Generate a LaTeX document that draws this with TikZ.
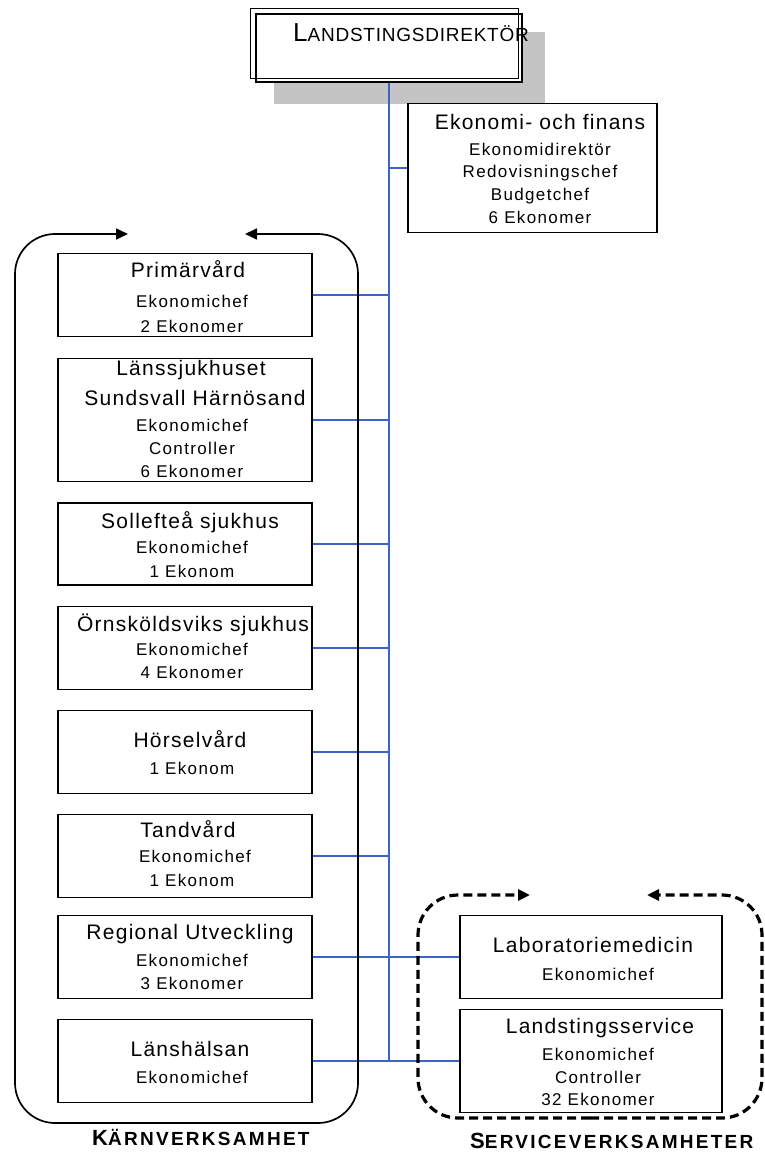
\documentclass[tikz,border=0pt]{standalone}
\usepackage{fontspec}
\setmainfont{Liberation Sans}
\newfontfamily\titlef[LetterSpace=6]{Liberation Sans}
\newfontfamily\subf[LetterSpace=8]{Liberation Sans}
\newfontfamily\capf[LetterSpace=4]{Liberation Sans}
\newfontfamily\labf[LetterSpace=12]{Liberation Sans}
\usetikzlibrary{arrows.meta}
\definecolor{conn}{RGB}{60,100,200}
\definecolor{shadowgray}{RGB}{196,196,196}
\tikzset{
  ubox/.style={draw, line width=1.3pt, fill=white, inner sep=0pt},
  tt/.style={anchor=base, inner sep=0pt, font=\titlef\fontsize{21}{21}\selectfont},
  st/.style={anchor=base, inner sep=0pt, font=\subf\fontsize{17}{17}\selectfont},
  lab/.style={anchor=base west, inner sep=0pt, font=\labf\bfseries\fontsize{19}{19}\selectfont},
  link/.style={draw=conn, line width=1.3pt},
  frame/.style={line width=1.7pt, rounded corners=40, -{Triangle[length=12,width=11]}},
  dframe/.style={line width=3.2pt, dash pattern=on 9pt off 5pt, rounded corners=40, -{Triangle[length=12,width=11]}}
}
\begin{document}
\begin{tikzpicture}[x=1pt,y=-1pt]
\useasboundingbox (0,0) rectangle (765,1153);

% top box
\fill[shadowgray] (274,32) rectangle (545,104);
\node[ubox, line width=2.4pt, minimum width=266, minimum height=68] (dir) at (389,48) {};
\draw[line width=0.9pt] ([shift={(-4,-4)}]dir.north west) rectangle ([shift={(-5,-5)}]dir.south east);
\node[anchor=base west, inner sep=0pt, font=\capf\fontsize{19}{19}\selectfont] (dirt) at (293,42) {{\fontsize{26}{26}\selectfont L}ANDSTINGSDIREKTÖR};

% Ekonomi box
\node[ubox, minimum width=249, minimum height=129] (eko) at (532.5,168) {};
\node[tt] (eko1) at (540,130) {Ekonomi- och finans};
\node[st] (eko2) at (540,155) {Ekonomidirektör};
\node[st] (eko3) at (540,177) {Redovisningschef};
\node[st] (eko4) at (540,200) {Budgetchef};
\node[st] (eko5) at (540,223) {6 Ekonomer};

% left boxes
\node[ubox, minimum width=254, minimum height=83] (prim) at (185,295) {};
\node[tt] (prim1) at (188,277) {Primärvård};
\node[st] (prim2) at (192,307) {Ekonomichef};
\node[st] (prim3) at (192,332) {2 Ekonomer};

\node[ubox, minimum width=254, minimum height=123] (lss) at (185,420) {};
\node[tt] (lss1) at (191,375) {Länssjukhuset};
\node[tt] (lss2) at (195,405) {Sundsvall Härnösand};
\node[st] (lss3) at (192,431) {Ekonomichef};
\node[st] (lss4) at (192,454) {Controller};
\node[st] (lss5) at (192,477) {6 Ekonomer};

\node[ubox, minimum width=254, minimum height=82] (sol) at (185,544) {};
\node[tt] (sol1) at (190,528) {Sollefteå sjukhus};
\node[st] (sol2) at (192,553) {Ekonomichef};
\node[st] (sol3) at (192,577) {1 Ekonom};

\node[ubox, minimum width=254, minimum height=83] (orn) at (185,648) {};
\node[tt] (orn1) at (193,631) {Örnsköldsviks sjukhus};
\node[st] (orn2) at (192,655) {Ekonomichef};
\node[st] (orn3) at (192,678) {4 Ekonomer};

\node[ubox, minimum width=254, minimum height=83] (hor) at (185,752) {};
\node[tt] (hor1) at (190,747) {Hörselvård};
\node[st] (hor2) at (192,774) {1 Ekonom};

\node[ubox, minimum width=254, minimum height=83] (tand) at (185,856) {};
\node[tt] (tand1) at (188,837) {Tandvård};
\node[st] (tand2) at (195,862) {Ekonomichef};
\node[st] (tand3) at (192,886) {1 Ekonom};

\node[ubox, minimum width=254, minimum height=83] (reg) at (185,957) {};
\node[tt] (reg1) at (190,939) {Regional Utveckling};
\node[st] (reg2) at (192,966) {Ekonomichef};
\node[st] (reg3) at (192,989) {3 Ekonomer};

\node[ubox, minimum width=254, minimum height=83] (lh) at (185,1061) {};
\node[tt] (lh1) at (190,1056) {Länshälsan};
\node[st] (lh2) at (192,1083) {Ekonomichef};

% right boxes
\node[ubox, minimum width=262, minimum height=83] (lab) at (591,957) {};
\node[tt] (lab1) at (593,952) {Laboratoriemedicin};
\node[st] (lab2) at (598,980) {Ekonomichef};

\node[ubox, minimum width=262, minimum height=103] (ls) at (591,1061) {};
\node[tt] (ls1) at (600,1033) {Landstingsservice};
\node[st] (ls2) at (598,1060) {Ekonomichef};
\node[st] (ls3) at (598,1083) {Controller};
\node[st] (ls4) at (598,1105) {32 Ekonomer};

% connectors
\coordinate (tend) at (389,1061);
\draw[link] (dir.south) -- (tend);
\draw[link] (eko.west -| dir.south) -- (eko.west);
\foreach \b in {prim,lss,sol,orn,hor,tand}{
  \draw[link] (\b.east) -- (\b.east -| dir.south);
}
\draw[link] (reg.east) -- (lab.west);
\draw[link] (lh.east) -- (ls.west);

% frames
\coordinate (kl) at (128,234);
\coordinate (kr) at (245,234);
\coordinate (kb) at (190,1123);
\draw[frame] (kb) -- (15,1123) -- (15,234) -- (kl);
\draw[frame] (kb) -- (358,1123) -- (358,234) -- (kr);

\coordinate (sl) at (530,895);
\coordinate (sr) at (647,895);
\coordinate (sb) at (590,1118);
\draw[dframe] (sb) -- (418,1118) -- (418,895) -- (sl);
\draw[dframe] (sb) -- (762,1118) -- (762,895) -- (sr);

% labels
\node[lab] (kv) at (92,1145) {{\fontsize{22}{22}\selectfont K}ÄRNVERKSAMHET};
\node[lab] (sv) at (470,1148) {{\fontsize{22}{22}\selectfont S}ERVICEVERKSAMHETER};
\end{tikzpicture}
\end{document}
